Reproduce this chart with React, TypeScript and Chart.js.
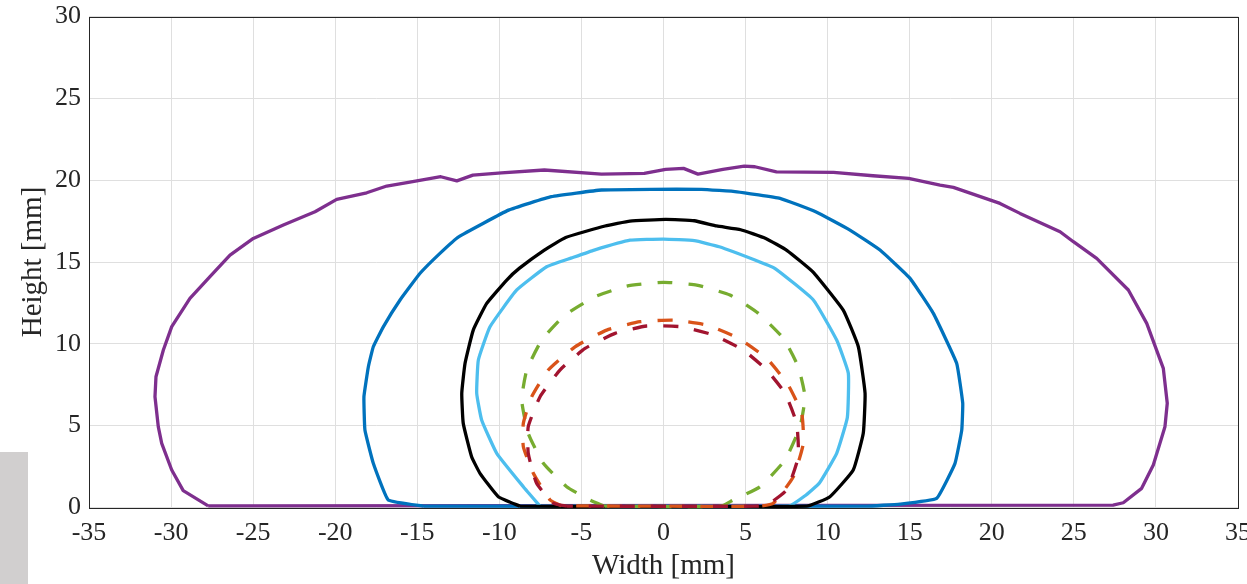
import React, { useEffect, useRef } from "react";
import { Chart, registerables } from "chart.js";

Chart.register(...registerables);

// ---- data (mm) ----
const purpleX = [-27.74, -29.26, -29.96, -30.57, -30.78, -30.98, -30.92, -30.47, -29.96, -28.85, -27.63, -26.41, -24.99, -23.16, -21.23, -19.91, -18.08, -16.86, -15.54, -13.57, -12.59, -11.61, -9.87, -7.26, -3.78, -1.17, 0.13, 1.22, 2.1, 3.62, 4.92, 5.57, 6.88, 10.36, 12.76, 14.93, 16.85, 17.66, 20.5, 21.72, 24.16, 24.97, 26.39, 28.32, 29.44, 30.45, 30.69, 30.55, 29.84, 29.13, 28.01, 27.39, -27.74];
const purpleY = [0.1, 1.03, 2.29, 3.92, 4.94, 6.77, 7.99, 9.62, 11.05, 12.78, 14.1, 15.42, 16.44, 17.26, 18.07, 18.83, 19.23, 19.64, 19.86, 20.21, 19.96, 20.31, 20.45, 20.62, 20.37, 20.41, 20.66, 20.72, 20.37, 20.66, 20.86, 20.82, 20.51, 20.48, 20.27, 20.11, 19.7, 19.56, 18.58, 17.97, 16.85, 16.24, 15.22, 13.29, 11.25, 8.5, 6.37, 4.94, 2.6, 1.17, 0.29, 0.15, 0.1];

const blueX = [-14.6, -16.77, -17.68, -18.19, -18.25, -17.98, -17.68, -17.07, -16.05, -14.83, -13.62, -12.48, -9.44, -6.83, -3.78, -0.74, 2.31, 4.48, 7.1, 9.27, 11.36, 13.19, 15.02, 16.44, 17.86, 18.23, 18.17, 17.76, 16.64, 14.41, 12.38, -14.6];
const blueY = [0.08, 0.46, 2.7, 4.73, 6.77, 8.6, 9.82, 11.04, 12.68, 14.31, 15.53, 16.54, 18.17, 18.99, 19.4, 19.44, 19.44, 19.29, 18.89, 18.07, 16.95, 15.73, 14.0, 11.86, 8.81, 6.37, 4.73, 2.7, 0.56, 0.21, 0.08, 0.08];

const blackX = [-8.74, -10.06, -11.18, -11.69, -12.2, -12.29, -12.09, -11.59, -10.77, -9.55, -8.79, -7.26, -5.96, -3.56, -2.04, 0.13, 1.88, 3.24, 4.7, 6.23, 7.53, 9.1, 10.95, 11.87, 12.28, 12.17, 11.56, 10.14, 8.72, -8.74];
const blackY = [0.08, 0.66, 2.09, 3.1, 5.14, 6.98, 8.81, 10.84, 12.47, 13.9, 14.61, 15.73, 16.5, 17.2, 17.5, 17.6, 17.52, 17.2, 16.97, 16.44, 15.7, 14.4, 12.06, 9.82, 6.98, 4.53, 2.29, 0.66, 0.08, 0.08];

const lightBlueX = [-7.52, -8.54, -10.16, -11.08, -11.38, -11.28, -10.57, -8.94, -7.12, -5.6, -4.22, -2.04, 0, 1.88, 3.4, 5.57, 6.8, 9.13, 10.55, 11.26, 11.2, 10.55, 9.5, 8.6, 7.6, -7.52];
const lightBlueY = [0.08, 1.27, 3.31, 5.35, 6.98, 9.01, 11.04, 13.29, 14.71, 15.25, 15.73, 16.33, 16.4, 16.3, 15.93, 15.12, 14.6, 12.68, 10.23, 8.2, 5.5, 3.31, 1.5, 0.7, 0.08, 0.08];

const greenX = [-3.6, -4.48, -5.9, -7.32, -8.24, -8.64, -8.33, -7.42, -6.0, -4.17, -2.24, 0, 2.02, 4.05, 5.78, 7.3, 8.21, 8.62, 8.32, 7.4, 5.88, 4.25, 3.5, -3.6];
const greenY = [0.08, 0.46, 1.27, 2.7, 4.53, 6.57, 8.4, 10.23, 11.76, 12.88, 13.53, 13.76, 13.59, 12.98, 11.86, 10.34, 8.6, 6.77, 4.94, 2.9, 1.27, 0.46, 0.08, 0.08];

const orangeX = [-6.2, -6.91, -7.93, -8.54, -8.54, -8.03, -7.02, -5.39, -3.46, -1.43, 0.6, 2.63, 4.56, 6.29, 7.6, 8.42, 8.52, 7.91, 6.69, 5.8, -6.2];
const orangeY = [0.1, 0.46, 2.09, 3.72, 5.14, 6.77, 8.4, 9.82, 10.84, 11.35, 11.45, 11.15, 10.34, 9.11, 7.48, 5.75, 3.92, 1.88, 0.26, 0.08, 0.1];

const redX = [-5.9, -6.71, -7.73, -8.24, -8.24, -7.52, -6.31, -4.78, -2.95, -1.02, 1.11, 3.03, 4.86, 6.29, 7.4, 8.11, 8.21, 7.5, 6.29, 5.5, -5.9];
const redY = [0.08, 0.26, 1.48, 3.31, 4.94, 6.77, 8.4, 9.72, 10.64, 11.09, 11.04, 10.54, 9.62, 8.4, 6.98, 5.14, 3.1, 1.07, 0.15, 0.08, 0.08];

const xTicks = [-35, -30, -25, -20, -15, -10, -5, 0, 5, 10, 15, 20, 25, 30, 35];
const yTicks = [0, 5, 10, 15, 20, 25, 30];

const xTitle = "Width [mm]";
const yTitle = "Height [mm]";

const pts = (xs: number[], ys: number[]) => xs.map((x, i) => ({ x, y: ys[i] }));

const W = 1247;
const H = 584;
const PLOT_LEFT = 89;
const PLOT_RIGHT = 1238;
const PLOT_TOP = 16.5;
const PLOT_BOTTOM = 507.5;

const FONT = "'Liberation Serif', 'Times New Roman', serif";

const framePlugin = {
  id: "frame",
  beforeDatasetsDraw(chart: any) {
    const { ctx, chartArea } = chart;
    ctx.save();
    ctx.strokeStyle = "#262626";
    ctx.lineWidth = 1;
    ctx.strokeRect(
      Math.round(chartArea.left) + 0.5,
      Math.round(chartArea.top) + 0.5,
      Math.round(chartArea.right - chartArea.left),
      Math.round(chartArea.bottom - chartArea.top)
    );
    ctx.restore();
  },
};

export default function App() {
  const ref = useRef<HTMLCanvasElement | null>(null);

  useEffect(() => {
    if (!ref.current) return;
    const mk = (label: string, xs: number[], ys: number[], color: string, dashed: boolean, order: number, tension: number) => ({
      label,
      data: pts(xs, ys),
      borderColor: color,
      backgroundColor: color,
      borderWidth: 3.3,
      borderDash: dashed ? [15, 16] : [],
      borderCapStyle: "butt",
      borderJoinStyle: "round",
      pointRadius: 0,
      pointHoverRadius: 0,
      showLine: true,
      fill: false,
      tension,
      clip: false,
      order,
    });
    const chart = new Chart(ref.current, {
      type: "scatter",
      data: {
        datasets: [
          mk("red", redX, redY, "#A2142F", true, 1, 0.15),
          mk("orange", orangeX, orangeY, "#D95319", true, 2, 0.15),
          mk("green", greenX, greenY, "#77AC30", true, 3, 0.15),
          mk("black", blackX, blackY, "#000000", false, 4, 0.12),
          mk("lightblue", lightBlueX, lightBlueY, "#4DBEEE", false, 5, 0.12),
          mk("blue", blueX, blueY, "#0072BD", false, 6, 0.1),
          mk("purple", purpleX, purpleY, "#7E2F8E", false, 7, 0),
        ] as any,
      },
      options: {
        animation: false,
        responsive: true,
        maintainAspectRatio: false,
        layout: { padding: { top: PLOT_TOP, right: W - PLOT_RIGHT, left: 0, bottom: 0 } },
        plugins: { legend: { display: false }, tooltip: { enabled: false } },
        events: [],
        scales: {
          x: {
            type: "linear",
            min: -35,
            max: 35,
            afterBuildTicks: (s: any) => {
              s.ticks = xTicks.map((v) => ({ value: v }));
            },
            afterFit: (s: any) => {
              s.height = H - PLOT_BOTTOM;
              s.paddingLeft = 0;
              s.paddingRight = 0;
            },
            grid: { color: "#dfdfdf", lineWidth: 1, drawTicks: false },
            border: { display: false },
            ticks: {
              color: "#262626",
              font: { family: FONT, size: 26 },
              padding: 10,
              maxRotation: 0,
              autoSkip: false,
              callback: (v: any) => String(v),
            },
            title: {
              display: true,
              text: xTitle,
              color: "#262626",
              font: { family: FONT, size: 29 },
              padding: { top: 0, bottom: 0 },
            },
          },
          y: {
            type: "linear",
            min: 0,
            max: 30,
            afterBuildTicks: (s: any) => {
              s.ticks = yTicks.map((v) => ({ value: v }));
            },
            afterFit: (s: any) => {
              s.width = PLOT_LEFT;
              s.paddingTop = 0;
              s.paddingBottom = 0;
            },
            grid: { color: "#dfdfdf", lineWidth: 1, drawTicks: false },
            border: { display: false },
            ticks: {
              color: "#262626",
              font: { family: FONT, size: 26 },
              padding: 8,
              autoSkip: false,
              callback: (v: any) => String(v),
            },
            title: {
              display: true,
              text: yTitle,
              color: "#262626",
              font: { family: FONT, size: 29 },
              padding: { top: 16, bottom: 0 },
            },
          },
        },
      } as any,
      plugins: [framePlugin],
    });
    return () => chart.destroy();
  }, []);

  return (
    <div style={{ position: "fixed", left: 0, top: 0, width: W, height: H, background: "#ffffff" }}>
      <canvas ref={ref} />
      <div
        style={{
          position: "absolute",
          left: 0,
          top: 452,
          width: 28,
          height: H - 452,
          background: "#d1cfcf",
        }}
      />
    </div>
  );
}
